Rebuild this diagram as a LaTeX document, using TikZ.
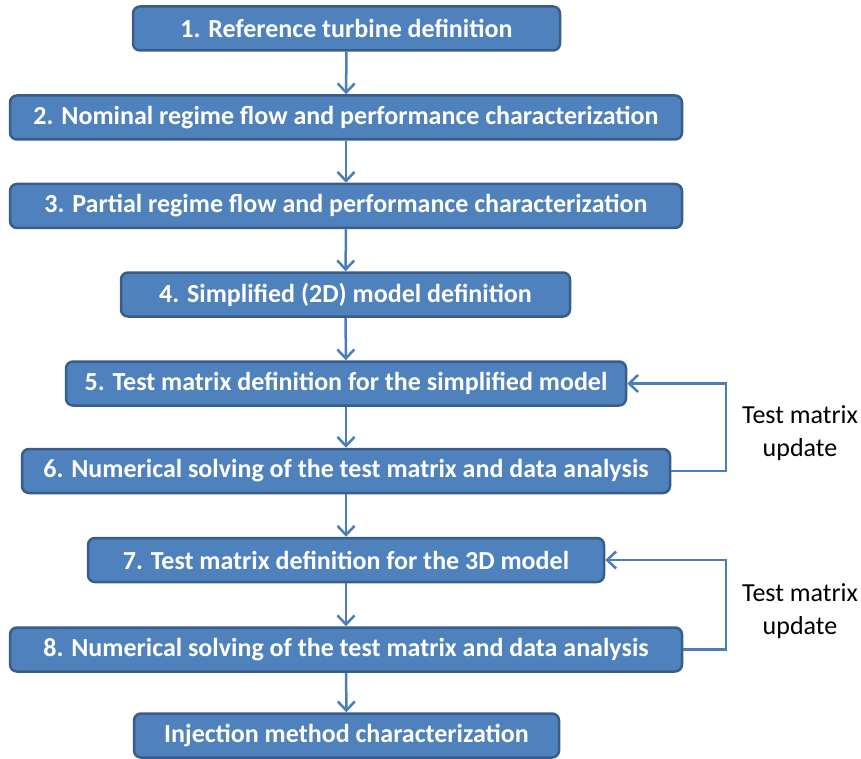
\documentclass[tikz,border=0pt]{standalone}
\usepackage{fontspec}
\setmainfont{Carlito}
\usetikzlibrary{arrows.meta}
\definecolor{boxfill}{HTML}{4F81BD}
\definecolor{boxline}{HTML}{385D8A}
\definecolor{flowline}{HTML}{4A7EBB}
\begin{document}
\begin{tikzpicture}[x=1pt,y=-1pt,
      stepbox/.style={rectangle, rounded corners=7pt, draw=boxline, fill=boxfill,
        line width=2.5pt, minimum height=44pt, inner sep=0pt, text=white,
        font=\fontsize{26}{30}\selectfont\bfseries},
      flow/.style={draw=flowline, line width=2.5pt,
        -{Straight Barb[length=9pt,width=17pt,line width=2.5pt]}},
      note/.style={align=center, font=\fontsize{26}{33}\selectfont}]

    \useasboundingbox (0,0) rectangle (861,759);

    \node[stepbox, minimum width=427pt] (st1) at (346.5,28.5) {1. Reference turbine definition};
    \node[stepbox, minimum width=672pt] (st2) at (346,117.5) {2. Nominal regime flow and performance characterization};
    \node[stepbox, minimum width=672pt] (st3) at (346,206) {3. Partial regime flow and performance characterization};
    \node[stepbox, minimum width=449pt] (st4) at (345.5,294.5) {4. Simplified (2D) model definition};
    \node[stepbox, minimum width=560pt] (st5) at (346,383.5) {5. Test matrix definition for the simplified model};
    \node[stepbox, minimum width=648pt] (st6) at (346,471) {6. Numerical solving of the test matrix and data analysis};
    \node[stepbox, minimum width=516pt] (st7) at (346,560) {7. Test matrix definition for the 3D model};
    \node[stepbox, minimum width=672pt] (st8) at (346,649.5) {8. Numerical solving of the test matrix and data analysis};
    \node[stepbox, minimum width=425pt] (st9) at (346.5,735.5) {Injection method characterization};

    \node[note] (upd1) at (800,433) {Test matrix\\update};
    \node[note] (upd2) at (800,611) {Test matrix\\update};

    \coordinate (back) at (726,0);

    \draw[flow] (st1) -- (st2);
    \draw[flow] (st2) -- (st3);
    \draw[flow] (st3) -- (st4);
    \draw[flow] (st4) -- (st5);
    \draw[flow] (st5) -- (st6);
    \draw[flow] (st6) -- (st7);
    \draw[flow] (st7) -- (st8);
    \draw[flow] (st8) -- (st9);

    \draw[flow] (st6.east) -- (st6.east -| back) |- (st5.east);
    \draw[flow] (st8.east) -- (st8.east -| back) |- (st7.east);

  \end{tikzpicture}
\end{document}
